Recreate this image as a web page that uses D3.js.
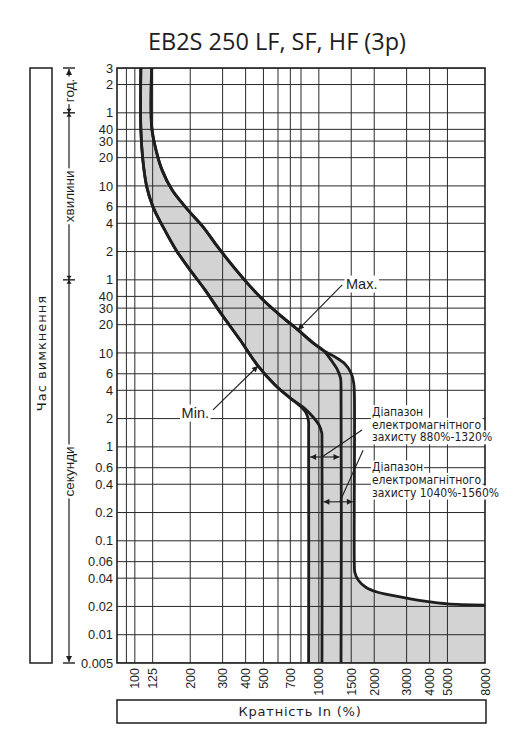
<!DOCTYPE html>
<html><head><meta charset="utf-8">
<script src="https://cdn.jsdelivr.net/npm/d3@7"></script>
<style>body{margin:0;background:#fff} svg{display:block}</style>
</head><body>
<svg id="c" width="518" height="737"></svg>
<script>
// ---------- data ----------
const chartTitle = "EB2S 250 LF, SF, HF (3p)";
const yAxisTitle = "Час вимкнення";
const xAxisTitle = "Кратність In (%)";
const yTickValues = [10800,7200,3600,2400,1800,1200,600,360,240,120,60,40,30,20,10,6,4,2,1,0.6,0.4,0.2,0.1,0.06,0.04,0.02,0.01,0.005];
const yTickLabels = ["3","2","1","40","30","20","10","6","4","2","1","40","30","20","10","6","4","2","1","0.6","0.4","0.2","0.1","0.06","0.04","0.02","0.01","0.005"];
const xGridValues = [90,100,125,200,300,400,500,600,700,800,1000,1500,2000,3000,4000,5000];
const xTickValues = [100,125,200,300,400,500,700,1000,1500,2000,3000,4000,5000,8000];
const timeUnits = [
  {label:"год.", from:10800, to:3600},
  {label:"хвилини", from:3600, to:60},
  {label:"секунди", from:60, to:0.005}
];
// curves: [multiple of In (%), time (s)]
const minCommon = [[107.8,10800],[107.8,2400],[110.5,1140],[116,590],[125.5,359],[142.3,220],[167.4,125],[199.5,76.6],[240.6,46.9],[297.8,25.4],[372.8,13.8],[467,7.27],[578,4.56],[697,3.32]];
const min880Tail = [[790,2.73],[852,2.3],[878,1.89],[880,1.51],[880,0.005]];
const min1040Tail = [[830,2.6],[930,2.08],[1002,1.71],[1037,1.41],[1040,1.2],[1040,0.005]];
const maxCommon = [[123.5,10800],[123.5,2554],[130.3,1452],[140.5,889],[159.2,545],[192,342],[234.7,220],[279.6,138],[337,86.6],[412,54.4],[510,35],[631,24.2],[770,17.6],[930,12.8],[1067,10.5]];
const max1320Tail = [[1164,8.43],[1255,6.76],[1311,5.42],[1320,4.24],[1320,0.005]];
const max1560Tail = [[1224,9.07],[1387,7.64],[1496,6.13],[1547,4.8],[1560,3.75],[1560,0.055],[1570,0.046],[1640,0.038],[1800,0.032],[2070,0.0285],[3000,0.0246],[4000,0.0224],[5000,0.0213],[8000,0.0207]];
const rangeBands = [
  {from:880, to:1320, t:0.78, text:["Діапазон","електромагнітного","захисту 880%-1320%"], labelAt:[1944,2.36], leaderFrom:[1716,1.51], leaderTo:[1040,0.78]},
  {from:1040, to:1560, t:0.26, text:["Діапазон","електромагнітного","захисту 1040%-1560%"], labelAt:[1944,0.61], leaderFrom:[1740,0.92], leaderTo:[1300,0.26]}
];
const curveLabels = [
  {text:"Max.", at:[1405,54.4], anchor:"start", from:[1340,53], to:[770,17.6]},
  {text:"Min.", at:[253,2.3], anchor:"end", from:[266,2.47], to:[467,7.27]}
];

// ---------- scales ----------
const svg = d3.select("#c");
const x = d3.scaleLog().domain([80,8000]).range([117,485]);
const y = d3.scaleLog().domain([0.005,10800]).range([663,68]);
const ink = "#1e1e1e";

const defs = svg.append("defs");
defs.append("clipPath").attr("id","plot").append("rect")
  .attr("x",117).attr("y",68).attr("width",368).attr("height",595);
defs.append("marker").attr("id","ah").attr("viewBox","0 0 10 10")
  .attr("refX",10).attr("refY",5).attr("markerWidth",9).attr("markerHeight",6)
  .attr("orient","auto-start-reverse").attr("markerUnits","userSpaceOnUse")
  .append("path").attr("d","M0,0L10,5L0,10z").attr("fill",ink);
defs.append("marker").attr("id","ahs").attr("viewBox","0 0 10 10")
  .attr("refX",10).attr("refY",5).attr("markerWidth",7).attr("markerHeight",6)
  .attr("orient","auto-start-reverse").attr("markerUnits","userSpaceOnUse")
  .append("path").attr("d","M0,0L10,5L0,10z").attr("fill",ink);

// title
svg.append("text").attr("x",277).attr("y",50).attr("text-anchor","middle")
  .attr("font-family","'Open Sans', 'Noto Sans', sans-serif").attr("font-size",23.5)
  .attr("fill",ink).text(chartTitle);

const line = d3.line().x(d=>x(d[0])).y(d=>y(d[1])).curve(d3.curveCatmullRom.alpha(0.5));

const minFull = minCommon.concat(min880Tail);
const maxFull = maxCommon.concat(max1560Tail);

const g = svg.append("g").attr("clip-path","url(#plot)");
// fill band
const p1 = line(minFull);
const p2 = line(maxFull.slice().reverse()).replace(/^M/,"L");
const corner = "L" + x(8000) + "," + y(0.005);
g.append("path").attr("d", p1 + corner + p2 + "Z").attr("fill","#d3d3d3");

// grid
g.selectAll(".gy").data(yTickValues).join("line")
  .attr("x1",117).attr("x2",485).attr("y1",d=>y(d)).attr("y2",d=>y(d))
  .attr("stroke","#2a2a2a").attr("stroke-width",1);
g.selectAll(".gx").data(xGridValues).join("line")
  .attr("y1",68).attr("y2",663).attr("x1",d=>x(d)).attr("x2",d=>x(d))
  .attr("stroke","#2a2a2a").attr("stroke-width",1);

// curves
[minFull, minCommon.concat(min1040Tail), maxCommon.concat(max1320Tail), maxFull].forEach(c=>{
  g.append("path").attr("d",line(c)).attr("fill","none").attr("stroke",ink)
    .attr("stroke-width",2.8).attr("stroke-linejoin","round");
});

// frame
svg.append("rect").attr("x",117).attr("y",68).attr("width",368).attr("height",595)
  .attr("fill","none").attr("stroke",ink).attr("stroke-width",1.6);

// y tick labels
svg.selectAll(".yl").data(yTickValues).join("text")
  .attr("x",113).attr("y",d=>y(d)).attr("dy","0.36em").attr("text-anchor","end")
  .attr("font-family","'Liberation Sans', Arial, sans-serif").attr("font-size",12.8)
  .attr("fill",ink).text((d,i)=>yTickLabels[i]);

// x tick labels
svg.selectAll(".xl").data(xTickValues).join("text")
  .attr("transform",d=>`translate(${x(d)},668) rotate(-90)`).attr("dy","0.36em")
  .attr("text-anchor","end")
  .attr("font-family","'Liberation Sans', Arial, sans-serif").attr("font-size",12.5)
  .attr("fill",ink).text(d=>d);

// bottom axis box
svg.append("rect").attr("x",117).attr("y",700).attr("width",369).attr("height",23)
  .attr("fill","#fff").attr("stroke",ink).attr("stroke-width",1.5);
svg.append("text").attr("x",300).attr("y",716).attr("text-anchor","middle")
  .attr("font-family","'DejaVu Sans', Verdana, sans-serif").attr("font-size",13)
  .attr("letter-spacing",0.8).attr("fill",ink).text(xAxisTitle);

// left title box
svg.append("rect").attr("x",30).attr("y",68).attr("width",22).attr("height",595)
  .attr("fill","#fff").attr("stroke",ink).attr("stroke-width",1.5);
svg.append("text").attr("transform","translate(41,353) rotate(-90)").attr("dy","0.36em")
  .attr("text-anchor","middle")
  .attr("font-family","'DejaVu Sans', Verdana, sans-serif").attr("font-size",13)
  .attr("letter-spacing",1).attr("fill",ink).text(yAxisTitle);

// time unit scale
const ux = 69;
const ug = svg.append("g");
ug.append("line").attr("x1",ux).attr("x2",ux).attr("y1",y(3600)).attr("y2",y(10800)+1)
  .attr("stroke",ink).attr("stroke-width",1.2).attr("marker-end","url(#ahs)");
ug.append("line").attr("x1",ux).attr("x2",ux).attr("y1",y(3600)).attr("y2",y(60))
  .attr("stroke",ink).attr("stroke-width",1.2);
ug.append("line").attr("x1",ux).attr("x2",ux).attr("y1",y(60)).attr("y2",y(0.005)-1)
  .attr("stroke",ink).attr("stroke-width",1.2).attr("marker-end","url(#ahs)");
[10800,3600,60,0.005].forEach(v=>{
  ug.append("line").attr("x1",ux-6).attr("x2",ux+6).attr("y1",y(v)).attr("y2",y(v))
    .attr("stroke",ink).attr("stroke-width",1.4);
});
[3600,60].forEach(v=>{
  ug.append("path").attr("d",`M${ux-2.5},${y(v)-4}L${ux+2.5},${y(v)-4}L${ux},${y(v)}Z`).attr("fill",ink);
  ug.append("path").attr("d",`M${ux-2.5},${y(v)+4}L${ux+2.5},${y(v)+4}L${ux},${y(v)}Z`).attr("fill",ink);
});

function withBg(sel, pad){
  const b = sel.node().getBBox();
  const parent = d3.select(sel.node().parentNode);
  parent.insert("rect", () => sel.node())
    .attr("x",b.x-pad).attr("y",b.y-pad+1).attr("width",b.width+2*pad).attr("height",b.height+2*pad-2)
    .attr("fill","#fff");
  return sel;
}

timeUnits.forEach(u=>{
  const cy = (y(u.from)+y(u.to))/2;
  const tg = ug.append("g").attr("transform",`translate(${ux},${cy}) rotate(-90)`);
  const t = tg.append("text").attr("text-anchor","middle").attr("dy","0.36em")
    .attr("font-family","'Liberation Sans', Arial, sans-serif").attr("font-size",13.5)
    .attr("fill",ink).text(u.label);
  withBg(t,2);
});

// curve labels
const ag = svg.append("g");
curveLabels.forEach(c=>{
  ag.append("line").attr("x1",x(c.from[0])).attr("y1",y(c.from[1]))
    .attr("x2",x(c.to[0])).attr("y2",y(c.to[1]))
    .attr("stroke",ink).attr("stroke-width",1.1).attr("marker-end","url(#ah)");
});
curveLabels.forEach(c=>{
  const t = ag.append("text").attr("x",x(c.at[0])).attr("y",y(c.at[1])).attr("dy","0.36em")
    .attr("text-anchor",c.anchor)
    .attr("font-family","'Liberation Sans', Arial, sans-serif").attr("font-size",14.5)
    .attr("fill",ink).text(c.text);
  withBg(t,1.5);
});

// magnetic range annotations
rangeBands.forEach(r=>{
  ag.append("line").attr("x1",x(r.from)+1.5).attr("x2",x(r.to)-1.5)
    .attr("y1",y(r.t)).attr("y2",y(r.t))
    .attr("stroke",ink).attr("stroke-width",1.1)
    .attr("marker-start","url(#ah)").attr("marker-end","url(#ah)");
  ag.append("line").attr("x1",x(r.leaderFrom[0])).attr("y1",y(r.leaderFrom[1]))
    .attr("x2",x(r.leaderTo[0])).attr("y2",y(r.leaderTo[1]))
    .attr("stroke",ink).attr("stroke-width",1.1);
  r.text.forEach((s,i)=>{
    const t = ag.append("text").attr("x",x(r.labelAt[0])).attr("y",y(r.labelAt[1])+i*12.6)
      .attr("dy","0.36em")
      .attr("font-family","'Liberation Sans Narrow', 'DejaVu Sans Condensed', 'Arial Narrow', sans-serif")
      .attr("font-size",12).attr("fill",ink).text(s);
    withBg(t,1);
  });
});
</script>
</body></html>
